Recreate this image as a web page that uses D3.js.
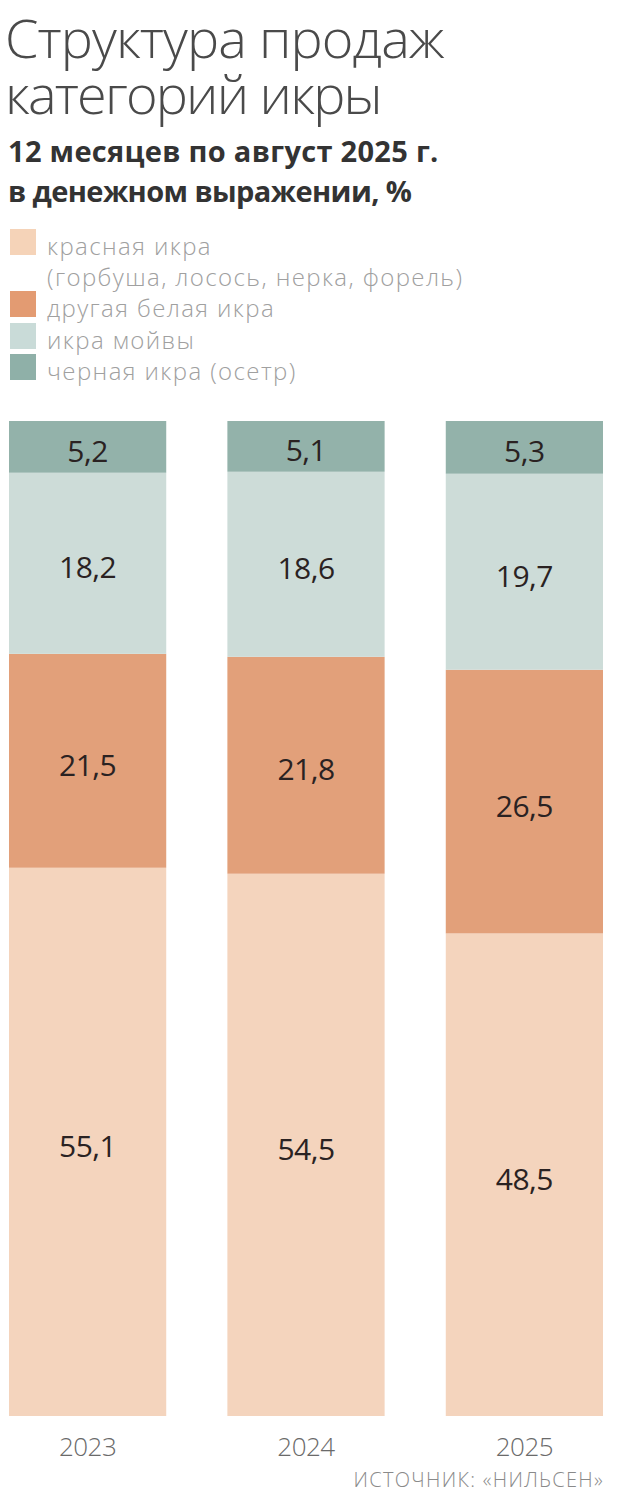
<!DOCTYPE html>
<html><head><meta charset="utf-8">
<script src="https://cdn.jsdelivr.net/npm/d3@7"></script>
<style>
html,body{margin:0;padding:0;background:#fff;}
svg{display:block;}
</style>
</head><body>
<svg id="chart" width="620" height="1504"></svg>
<script>
const years = ["2023", "2024", "2025"];
const categories = ["красная икра", "другая белая икра", "икра мойвы", "черная икра (осетр)"];
const legendLabels = [["красная икра", "(горбуша, лосось, нерка, форель)"], ["другая белая икра"], ["икра мойвы"], ["черная икра (осетр)"]];
const redCaviar = [55.1, 54.5, 48.5];
const whiteCaviar = [21.5, 21.8, 26.5];
const capelinCaviar = [18.2, 18.6, 19.7];
const blackCaviar = [5.2, 5.1, 5.3];
const colors = ["#f4d4bd", "#e2a07a", "#cddcd8", "#93b2aa"];
const legendColors = ["#f5d3b8", "#e39b72", "#c9dbd8", "#8fb0a8"];

const series = [redCaviar, whiteCaviar, capelinCaviar, blackCaviar];
const rows = years.map((y, i) => {
  const r = {year: y};
  categories.forEach((c, j) => r[c] = series[j][i]);
  return r;
});
const stack = d3.stack().keys(categories)(rows);

const svg = d3.select("#chart");
const fmt = v => d3.format(".1f")(v).replace(".", ",");

// Title
const title = svg.append("g").attr("font-family", "'Open Sans', sans-serif");
title.append("text").attr("x", 5).attr("y", 58).attr("font-size", 54).attr("font-weight", 300)
  .attr("fill", "#4a4a4a").attr("letter-spacing", -0.9).text("Структура продаж");
title.append("text").attr("x", 5).attr("y", 114).attr("font-size", 54).attr("font-weight", 300)
  .attr("fill", "#4a4a4a").attr("letter-spacing", -1.8).text("категорий икры");
title.append("text").attr("x", 8).attr("y", 162).attr("font-size", 29).attr("font-weight", 700)
  .attr("fill", "#333").attr("letter-spacing", 0.3).text("12 месяцев по август 2025 г.");
title.append("text").attr("x", 8).attr("y", 202).attr("font-size", 29).attr("font-weight", 700)
  .attr("fill", "#333").attr("letter-spacing", -0.6).text("в денежном выражении, %");

// Legend
const legendY = [229, 291, 323, 354];
const lg = svg.append("g").attr("font-family", "'Open Sans', sans-serif");
categories.forEach((c, i) => {
  lg.append("rect").attr("x", 10).attr("y", legendY[i]).attr("width", 26).attr("height", 26).attr("fill", legendColors[i]);
  legendLabels[i].forEach((t, k) => {
    lg.append("text").attr("x", 47).attr("y", legendY[i] + 26 + k * 31).attr("font-size", 24).attr("font-weight", 300)
      .attr("fill", "#a0a0a0").attr("letter-spacing", 1.4).text(t);
  });
});

// Scales
const x = d3.scaleBand().domain(years).range([9, 603]).paddingInner(0.28).paddingOuter(0);
const y = d3.scaleLinear().domain([0, 100]).range([1416, 421]);

const bars = svg.append("g");
stack.forEach((layer, li) => {
  const key = layer.key;
  bars.selectAll(null).data(layer).join("rect")
    .attr("x", d => x(d.data.year))
    .attr("width", x.bandwidth())
    .attr("y", d => y(d[1]))
    .attr("height", d => y(d[0]) - y(d[1]))
    .attr("fill", colors[li]);
  bars.selectAll(null).data(layer).join("text")
    .attr("x", d => x(d.data.year) + x.bandwidth() / 2)
    .attr("y", d => (y(d[0]) + y(d[1])) / 2 + 15)
    .attr("text-anchor", "middle")
    .attr("font-family", "'Open Sans', sans-serif")
    .attr("font-size", 30)
    .attr("fill", "#2a2222")
    .attr("letter-spacing", -0.5)
    .text(d => fmt(d.data[key]));
});

// X axis labels
const xAxis = d3.axisBottom(x).tickSize(0).tickPadding(0);
const ax = svg.append("g").attr("transform", "translate(0,1416)").call(xAxis);
ax.select(".domain").remove();
ax.selectAll("text").attr("y", 40).attr("dy", 0).attr("font-family", "'Open Sans', sans-serif")
  .attr("font-size", 26).attr("font-weight", 300).attr("fill", "#6a6a6a").attr("letter-spacing", -0.5);

// Source
svg.append("text").attr("x", 604).attr("y", 1487).attr("text-anchor", "end")
  .attr("font-family", "'Open Sans', sans-serif").attr("font-size", 20).attr("font-weight", 300)
  .attr("fill", "#8a8a8a").attr("letter-spacing", 1.3).text("ИСТОЧНИК: «НИЛЬСЕН»");
</script>
</body></html>
